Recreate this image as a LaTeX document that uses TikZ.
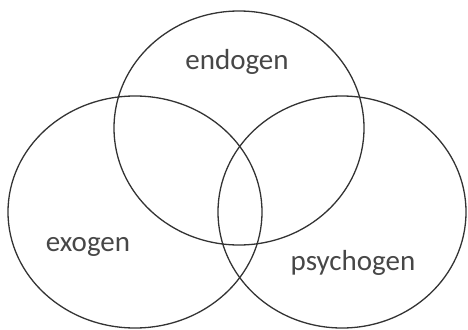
\documentclass[tikz,border=0pt]{standalone}
\usepackage{fontspec}
\setmainfont{Carlito}
\begin{document}
\begin{tikzpicture}[x=1pt,y=-1pt,
  ring/.style={draw=black!80,line width=1.3pt},
  lbl/.style={text=black!72,font=\fontsize{29}{32}\selectfont,inner sep=0pt}]
\useasboundingbox (0,0) rectangle (468,329);
\draw[ring] (239,128) ellipse [x radius=125, y radius=117];
\draw[ring] (135,212) ellipse [x radius=127, y radius=116];
\draw[ring] (342,212) ellipse [x radius=124, y radius=116];
\node[lbl] (endo) at (237,62) {endogen};
\node[lbl] (exo) at (88,247) {exogen};
\node[lbl] (psy) at (353,263) {psychogen};
\end{tikzpicture}
\end{document}
